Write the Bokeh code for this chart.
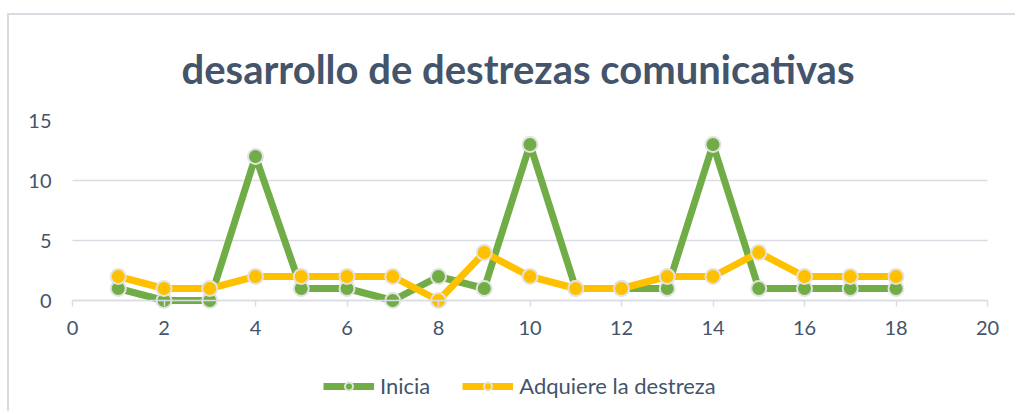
from bokeh.plotting import figure
from bokeh.models import FixedTicker, Legend, LegendItem
from bokeh.embed import file_html
from bokeh.resources import INLINE

title_text = "desarrollo de destrezas comunicativas"
x_vals = list(range(1, 19))
inicia = [1, 0, 0, 12, 1, 1, 0, 2, 1, 13, 1, 1, 1, 13, 1, 1, 1, 1]
adquiere = [2, 1, 1, 2, 2, 2, 2, 0, 4, 2, 1, 1, 2, 2, 4, 2, 2, 2]
series_names = ["Inicia", "Adquiere la destreza"]
x_ticks = [0, 2, 4, 6, 8, 10, 12, 14, 16, 18, 20]
y_ticks = [0, 5, 10, 15]

GREEN = "#70AD47"
YELLOW = "#FFC000"
TEXT = "#44546A"
GRID = "#D9DDE3"
FONT = "Lato"

PX = 915 / 20          # pixels per x unit
EDGE = 14              # pixels of room so the edge tick labels are not clipped
PAD = EDGE / PX

p = figure(width=1008, height=398,
           x_range=(-PAD, 20 + PAD), y_range=(-9, 15),
           min_border_left=63 - EDGE, min_border_right=30 - EDGE,
           min_border_top=105, min_border_bottom=5,
           output_backend="svg", toolbar_location=None)
p.styles = {"border-top": "2px solid #D9DDE3", "border-left": "2px solid #D9DDE3",
            "margin-top": "13px", "margin-left": "7px"}

p.title.text = title_text
p.title.text_font = FONT
p.title.text_font_size = "40px"
p.title.text_font_style = "bold"
p.title.text_color = TEXT
p.title.align = "left"
p.title.offset = 109 + EDGE
p.title.vertical_align = "bottom"
p.title.standoff = 55

p.outline_line_color = None
p.xgrid.grid_line_color = None
p.ygrid.grid_line_color = GRID
p.ygrid.grid_line_width = 1.5
p.ygrid.ticker = FixedTicker(ticks=y_ticks)
p.ygrid.cross_bounds = (0, 20)

p.xaxis.ticker = FixedTicker(ticks=x_ticks)
p.xaxis.fixed_location = 0
p.xaxis.bounds = (0, 20)
p.xaxis.axis_line_color = GRID
p.xaxis.axis_line_width = 1.5
p.xaxis.major_tick_line_color = GRID
p.xaxis.major_tick_line_width = 1.5
p.xaxis.major_tick_out = 6
p.xaxis.major_tick_in = 0
p.xaxis.minor_tick_line_color = None
p.xaxis.major_label_standoff = 14

p.yaxis.ticker = FixedTicker(ticks=y_ticks)
p.yaxis.axis_line_color = None
p.yaxis.major_tick_line_color = None
p.yaxis.minor_tick_line_color = None
p.yaxis.major_label_standoff = 1

for ax in (p.xaxis, p.yaxis):
    ax.major_label_text_font = FONT
    ax.major_label_text_font_size = "20px"
    ax.major_label_text_color = TEXT

l1 = p.line(x_vals, inicia, line_color=GREEN, line_width=7)
c1 = p.scatter(x_vals, inicia, size=15, fill_color=GREEN, line_color="#E2E2E2", line_width=2)
l2 = p.line(x_vals, adquiere, line_color=YELLOW, line_width=7)
c2 = p.scatter(x_vals, adquiere, size=15, fill_color=YELLOW, line_color="#E2E2E2", line_width=2)

legend = Legend(items=[LegendItem(label=series_names[0], renderers=[l1, c1]),
                       LegendItem(label=series_names[1], renderers=[l2, c2])],
                orientation="horizontal", location=(251 + EDGE, 9),
                glyph_width=51, glyph_height=20, label_standoff=6, spacing=32,
                label_text_font=FONT, label_text_font_size="22px", label_text_color=TEXT,
                border_line_color=None, background_fill_alpha=0, margin=0, padding=5)
p.add_layout(legend, "center")

open("out.html", "w").write(file_html(p, INLINE))
